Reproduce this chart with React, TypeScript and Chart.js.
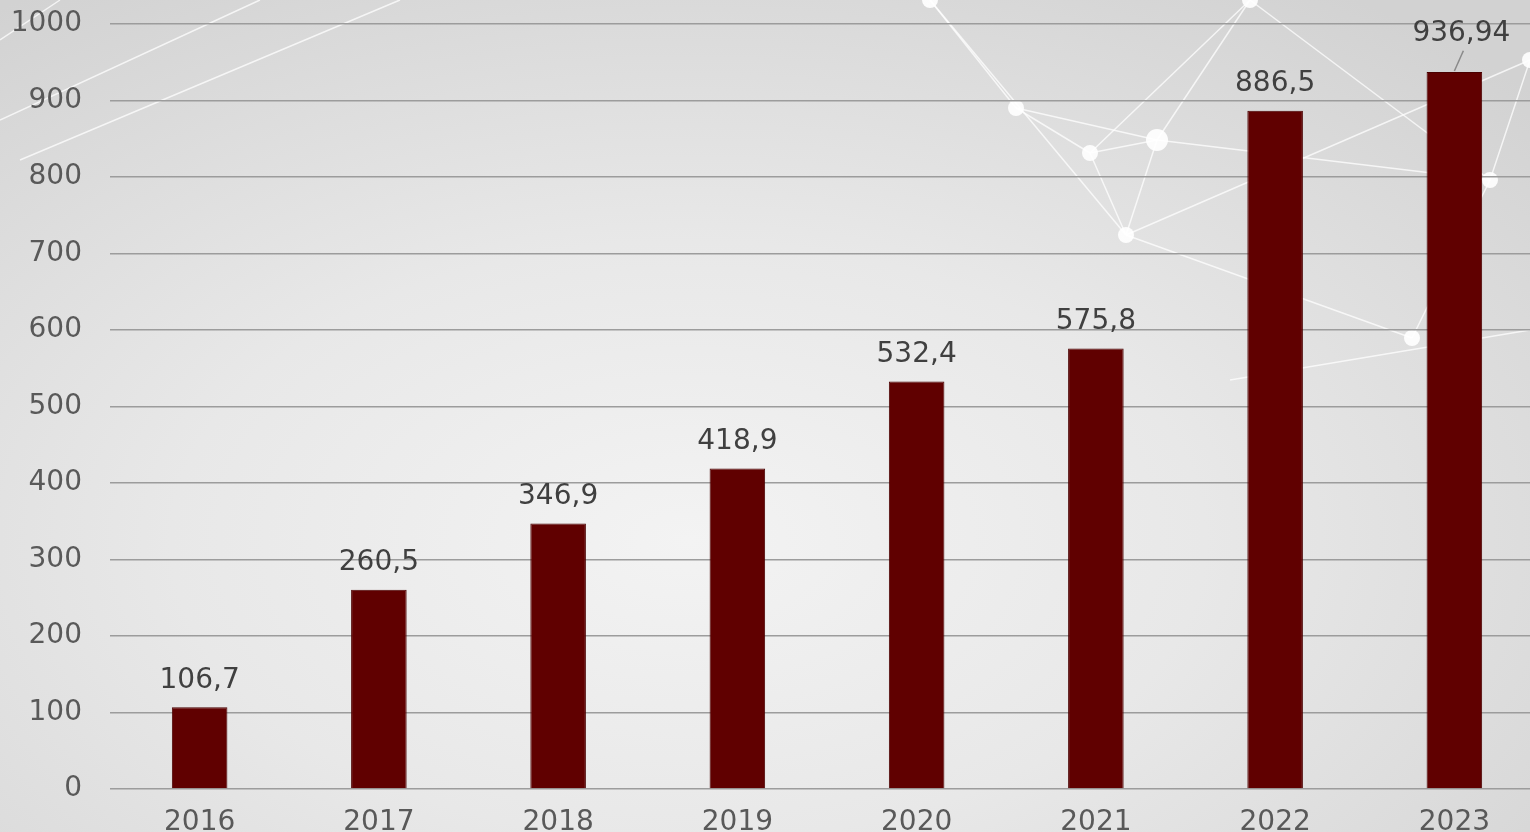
import React, { useEffect, useRef } from "react";
import { Chart, registerables } from "chart.js";

Chart.register(...registerables);

const years = ["2016", "2017", "2018", "2019", "2020", "2021", "2022", "2023"];
const values = [106.7, 260.5, 346.9, 418.9, 532.4, 575.8, 886.5, 936.94];
const valueLabels = ["106,7", "260,5", "346,9", "418,9", "532,4", "575,8", "886,5", "936,94"];

const FONT = "'DejaVu Sans', 'Liberation Sans', Arial, sans-serif";
const SHIFT = 21;

// decorative network lines of the background (page pixel coords)
const netNodes: [number, number][] = [
  [1016, 108], [1090, 153], [1157, 140], [1126, 235], [1412, 338], [1490, 180], [930, 0], [1250, 0], [1530, 60],
];
const netEdges: [number, number][] = [
  [0, 1], [1, 2], [1, 3], [2, 3], [0, 6], [1, 7], [2, 7], [3, 4], [4, 5], [5, 8], [2, 5], [3, 8], [0, 2], [7, 5], [6, 3],
];

const backgroundPlugin = {
  id: "netBackground",
  beforeDraw(chart: any) {
    const ctx = chart.ctx;
    ctx.save();
    ctx.translate(0, SHIFT);
    ctx.strokeStyle = "rgba(255,255,255,0.75)";
    ctx.lineWidth = 1.5;
    netEdges.forEach(([a, b]) => {
      ctx.beginPath();
      ctx.moveTo(netNodes[a][0], netNodes[a][1]);
      ctx.lineTo(netNodes[b][0], netNodes[b][1]);
      ctx.stroke();
    });
    ctx.beginPath();
    ctx.moveTo(0, 120);
    ctx.lineTo(260, 0);
    ctx.moveTo(20, 160);
    ctx.lineTo(400, 0);
    ctx.moveTo(0, 40);
    ctx.lineTo(60, 0);
    ctx.moveTo(1230, 380);
    ctx.lineTo(1530, 330);
    ctx.stroke();
    ctx.fillStyle = "rgba(255,255,255,0.9)";
    netNodes.forEach(([x, y], i) => {
      ctx.beginPath();
      ctx.arc(x, y, i === 2 ? 11 : 8, 0, Math.PI * 2);
      ctx.fill();
    });
    ctx.restore();
  },
};

const labelPlugin = {
  id: "valueLabels",
  afterDatasetsDraw(chart: any) {
    const ctx = chart.ctx;
    const meta = chart.getDatasetMeta(0);
    const top = chart.chartArea.top;
    ctx.save();
    ctx.font = `28px ${FONT}`;
    ctx.fillStyle = "#404040";
    ctx.textAlign = "center";
    ctx.textBaseline = "middle";
    meta.data.forEach((bar: any, i: number) => {
      let y = bar.y - 27;
      let x = bar.x;
      let leader = false;
      if (y < top + 30) {
        y = top + 10;
        x = bar.x + 7;
        leader = true;
      }
      if (leader) {
        ctx.strokeStyle = "#8a8a8a";
        ctx.lineWidth = 1.5;
        ctx.beginPath();
        ctx.moveTo(bar.x, bar.y - 1);
        ctx.lineTo(x + 2, y + 17);
        ctx.stroke();
      }
      ctx.fillText(valueLabels[i], x, y);
    });
    ctx.restore();
  },
};

export default function App() {
  const ref = useRef<HTMLCanvasElement | null>(null);
  useEffect(() => {
    if (!ref.current) return;
    const chart = new Chart(ref.current, {
      type: "bar",
      data: {
        labels: years,
        datasets: [
          {
            data: values,
            backgroundColor: "#600000",
            borderColor: "#4a0000",
            borderWidth: 1,
            barPercentage: 0.31,
            categoryPercentage: 1,
          },
        ],
      },
      options: {
        responsive: false,
        animation: false,
        layout: { padding: { top: 2, left: 0, right: 0, bottom: 0 } },
        plugins: { legend: { display: false }, tooltip: { enabled: false } },
        scales: {
          x: {
            grid: { display: false, drawTicks: false },
            border: { display: false },
            ticks: { color: "#595959", font: { family: FONT, size: 28 }, padding: 17 },
            afterFit: (s: any) => {
              s.height = 71;
            },
          },
          y: {
            min: 0,
            max: 1000,
            grid: { color: "#9c9c9c", lineWidth: 1.5, drawTicks: false },
            border: { display: false },
            ticks: {
              stepSize: 100,
              color: "#595959",
              font: { family: FONT, size: 28 },
              padding: 28,
              callback: (v: any) => String(v),
            },
            afterFit: (s: any) => {
              s.width = 110;
            },
          },
        },
      },
      plugins: [backgroundPlugin, labelPlugin],
    });
    return () => chart.destroy();
  }, []);
  return (
    <div
      style={{
        position: "fixed",
        left: 0,
        top: 0,
        width: 1530,
        height: 832,
        overflow: "hidden",
        background:
          "radial-gradient(ellipse 75% 80% at 45% 65%, #f3f3f3 0%, #e8e8e8 45%, #d2d2d2 100%)",
      }}
    >
      <canvas
        ref={ref}
        width={1544}
        height={881}
        style={{ display: "block", width: 1544, height: 881, marginTop: -SHIFT }}
      />
    </div>
  );
}
